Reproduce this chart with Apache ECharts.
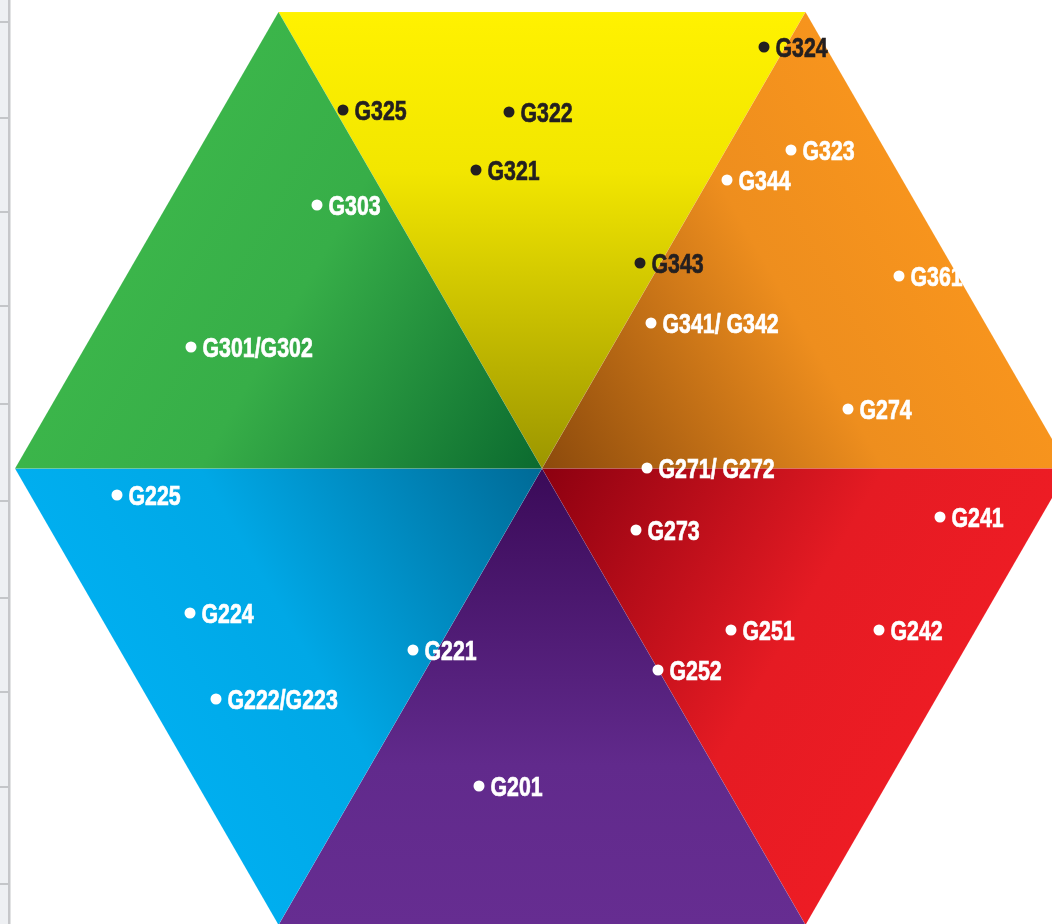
<!DOCTYPE html>
<html><head><meta charset="utf-8">
<script src="https://cdn.jsdelivr.net/npm/echarts@6/dist/echarts.min.js"></script>
<style>html,body{margin:0;padding:0;background:#fff;overflow:hidden}#c{width:1052px;height:924px}</style>
</head><body><div id="c"></div>
<script>
// Hexagon sectors (data space: x 0..1052, y 0..924 downward)
const hexCenter = [542, 468.5];
const hexRadius = 527;
const sectorNames = ['yellow', 'orange', 'red', 'purple', 'blue', 'green'];
const sectorFromAngle = [60, 0, -60, -120, 180, 120];
const sectorToAngle = [120, 60, 0, -60, 240, 180];
const sectorOuter = ['#FFF200', '#F7941D', '#ED1C24', '#662D91', '#00AEEF', '#3BB54A'];
const sectorMid = ['#F2E600', '#EE8E1E', '#E51B23', '#612A8C', '#00A8E6', '#37AE48'];
const sectorInner = ['#9C9600', '#8C4A0C', '#8C0010', '#3A0A58', '#006A96', '#0B6A2F'];

// Points
const pointLabels = ['G324', 'G325', 'G322', 'G321', 'G323', 'G344', 'G303', 'G343', 'G361', 'G341/ G342', 'G301/G302', 'G274', 'G271/ G272', 'G225', 'G241', 'G273', 'G224', 'G251', 'G242', 'G221', 'G252', 'G222/G223', 'G201'];
const pointX = [764, 343, 509, 476, 791, 727, 317, 640, 899, 651, 191, 848, 647, 117, 940, 636, 190, 731, 879, 413, 658, 216, 479];
const pointY = [47, 110, 112, 170, 150, 180, 205, 263, 276, 323, 347, 409, 468, 495, 517, 530, 613, 630, 630, 650, 670, 699, 786];
const pointDark = [1, 1, 1, 1, 0, 0, 0, 1, 0, 0, 0, 0, 0, 0, 0, 0, 0, 0, 0, 0, 0, 0, 0];

// Left ruler ticks
const rulerTicks = [22, 118, 212, 306, 404, 501, 598, 692, 787, 884];

const chart = echarts.init(document.getElementById('c'), null, {renderer: 'canvas'});

function rad(d) { return d * Math.PI / 180; }

option = {
  animation: false,
  backgroundColor: '#ffffff',
  grid: {left: 0, right: 0, top: 0, bottom: 0},
  xAxis: {type: 'value', min: 0, max: 1052, show: false},
  yAxis: {type: 'value', min: 0, max: 924, inverse: true, show: false},
  series: [
    {
      type: 'custom',
      coordinateSystem: 'cartesian2d',
      data: sectorNames.map((n, i) => [i]),
      silent: true,
      clip: false,
      renderItem: function (params, api) {
        const i = api.value(0);
        const cx = hexCenter[0], cy = hexCenter[1], R = hexRadius;
        const a1 = rad(sectorFromAngle[i]), a2 = rad(sectorToAngle[i]);
        const p0 = api.coord([cx, cy]);
        const p1 = api.coord([cx + R * Math.cos(a1), cy - R * Math.sin(a1)]);
        const p2 = api.coord([cx + R * Math.cos(a2), cy - R * Math.sin(a2)]);
        const m = [(p1[0] + p2[0]) / 2, (p1[1] + p2[1]) / 2];
        const grad = new echarts.graphic.LinearGradient(m[0], m[1], p0[0], p0[1], [
          {offset: 0, color: sectorOuter[i]},
          {offset: 0.35, color: sectorMid[i]},
          {offset: 1, color: sectorInner[i]}
        ], true);
        return {
          type: 'polygon',
          shape: {points: [p0, p1, p2]},
          style: {fill: grad, stroke: 'rgba(255,255,255,0.12)', lineWidth: 0.6}
        };
      },
      z: 1
    },
    {
      type: 'custom',
      coordinateSystem: 'cartesian2d',
      data: rulerTicks.map(t => [t]),
      silent: true,
      renderItem: function (params, api) {
        const y = api.value(0);
        const a = api.coord([0, y]);
        const b = api.coord([9, y]);
        return {
          type: 'line',
          shape: {x1: a[0], y1: a[1], x2: b[0], y2: b[1]},
          style: {stroke: '#C4C6C9', lineWidth: 2}
        };
      },
      z: 3
    },
    {
      type: 'custom',
      coordinateSystem: 'cartesian2d',
      data: pointLabels.map((l, i) => [pointX[i], pointY[i], i]),
      silent: true,
      clip: false,
      renderItem: function (params, api) {
        const i = api.value(2);
        const p = api.coord([api.value(0), api.value(1)]);
        const col = pointDark[i] ? '#231F20' : '#FFFFFF';
        return {
          type: 'group',
          children: [
            {type: 'circle', shape: {cx: p[0], cy: p[1], r: 5.5}, style: {fill: col}},
            {
              type: 'text',
              x: p[0] + 11.5,
              y: p[1] + 3,
              scaleX: 0.79,
              scaleY: 1,
              style: {
                text: pointLabels[i],
                fill: col,
                stroke: col,
                lineWidth: 0.7,
                font: 'bold 27px "Liberation Sans", Arial, sans-serif',
                textAlign: 'left',
                textVerticalAlign: 'middle'
              }
            }
          ]
        };
      },
      z: 5
    }
  ],
  graphic: [
    {type: 'rect', left: 0, top: 0, shape: {width: 8, height: 924}, style: {fill: '#EEF0F3'}, z: 2},
    {type: 'rect', left: 8, top: 0, shape: {width: 2.5, height: 924}, style: {fill: '#C6C7CA'}, z: 2}
  ]
};
chart.setOption(option);
</script>
</body></html>
